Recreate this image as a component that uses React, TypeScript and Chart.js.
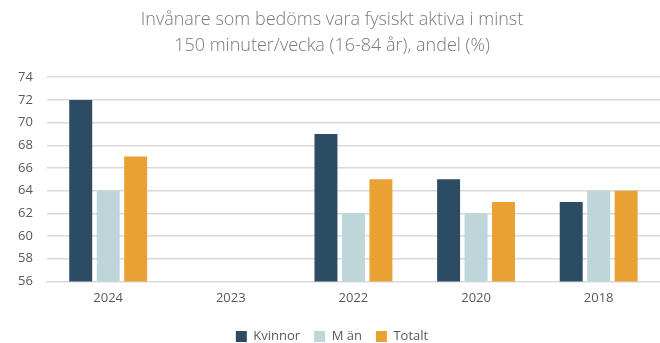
import React, { useEffect, useRef } from "react";
import { Chart, registerables } from "chart.js";

Chart.register(...registerables);

const titleLines = [
  "Invånare som bedöms vara fysiskt aktiva i minst",
  "150 minuter/vecka (16-84 år), andel (%)",
];
const years = ["2024", "2023", "2022", "2020", "2018"];
const kvinnor = [72, null, 69, 65, 63];
const man = [64, null, 62, 62, 64];
const totalt = [67, null, 65, 63, 64];
const seriesNames = ["Kvinnor", "M än", "Totalt"];
const seriesColors = ["#2b4c63", "#bed6d9", "#eaa133"];
const yMin = 56;
const yMax = 74;
const yStep = 2;

export default function App() {
  const canvasRef = useRef<HTMLCanvasElement | null>(null);

  useEffect(() => {
    if (!canvasRef.current) return;
    const font = "'Open Sans', 'DejaVu Sans', sans-serif";
    const values = [kvinnor, man, totalt];
    const chart = new Chart(canvasRef.current, {
      type: "bar",
      data: {
        labels: years,
        datasets: seriesNames.map((name, i) => ({
          label: name,
          data: values[i],
          backgroundColor: seriesColors[i],
          borderWidth: 0,
          categoryPercentage: 0.672,
          barPercentage: 0.836,
        })),
      },
      options: {
        animation: false,
        responsive: false,
        maintainAspectRatio: false,
        layout: { padding: { left: 4, right: 0, top: 7, bottom: -10 } },
        plugins: {
          title: {
            display: true,
            text: titleLines,
            color: "#7a7a7a",
            font: { family: font, size: 18, weight: 300, lineHeight: 1.45 },
            padding: { top: 0, bottom: 18 },
          },
          legend: {
            position: "bottom",
            labels: {
              color: "#595959",
              font: { family: font, size: 13 },
              boxWidth: 11,
              boxHeight: 11,
              padding: 14,
            },
          },
          tooltip: { enabled: false },
        },
        scales: {
          x: {
            grid: { display: false, drawTicks: false },
            border: { color: "#d9d9d9" },
            ticks: { color: "#595959", font: { family: font, size: 13 }, padding: 9 },
            afterFit: (scale: any) => {
              scale.height += 1;
            },
          },
          y: {
            min: yMin,
            max: yMax,
            ticks: {
              stepSize: yStep,
              color: "#595959",
              font: { family: font, size: 13 },
              padding: 14,
            },
            grid: { color: "#d9d9d9", lineWidth: 1.5, drawTicks: false },
            border: { display: false },
          },
        },
      },
    });
    return () => chart.destroy();
  }, []);

  return (
    <div style={{ position: "fixed", left: 0, top: 0, width: 660, height: 343, background: "#fff" }}>
      <canvas ref={canvasRef} width={660} height={343} style={{ width: 660, height: 343 }} />
    </div>
  );
}
